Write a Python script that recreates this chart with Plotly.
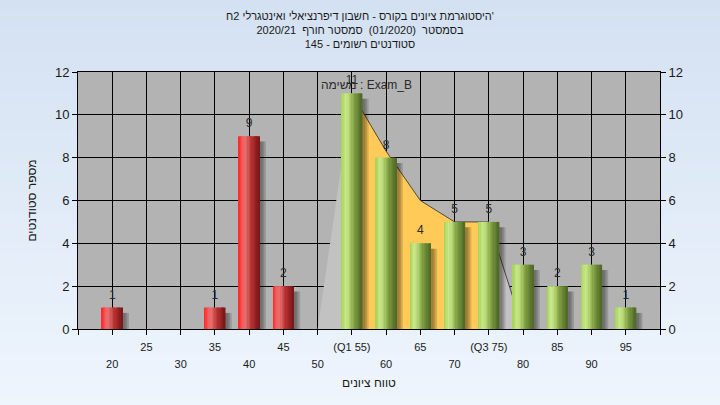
import plotly.graph_objects as go

# ---------------- data ----------------
scores = [20, 35, 40, 45, 55, 60, 65, 70, 75, 80, 85, 90, 95]
counts = [1, 1, 9, 2, 11, 8, 4, 5, 5, 3, 2, 3, 1]
pass_mark = 55

curve_x = [50, 55, 60, 65, 70, 75, 80]
curve_y = [0, 11, 8.3, 6, 5, 5, 0]
iqr_x = [55, 60, 65, 70, 75]
iqr_y = [11, 8.3, 6, 5, 5]
edge_x = [55, 60, 65, 70, 75, 80]
edge_y = [11, 8.3, 6, 5, 5, 0]

all_ticks = [15, 20, 25, 30, 35, 40, 45, 50, 55, 60, 65, 70, 75, 80, 85, 90, 95, 100]
upper_ticks = [25, 35, 45, 55, 65, 75, 85, 95]
upper_labels = ["25", "35", "45", "(Q1 55)", "65", "(Q3 75)", "85", "95"]
lower_ticks = [20, 30, 40, 50, 60, 70, 80, 90]
lower_labels = ["20", "30", "40", "50", "60", "70", "80", "90"]

title_lines = [
    "היסטוגרמת ציונים בקורס - חשבון דיפרנציאלי ואינטגרלי 2ח'",
    "בסמסטר  (01/2020)  סמסטר חורף  2020/21",
    "סטודנטים רשומים - 145",
]
legend_text = "משימה : Exam_B"
x_title = "טווח ציונים"
y_title = "מספר סטודנטים"

# ---------------- style ----------------
FONT = "Liberation Sans, Arial, sans-serif"
L, R, T, B = 78, 60, 72, 76
W, H = 720, 405
PW, PH = W - L - R, H - T - B

RED_STOPS = [(0.0, (255, 36, 36)), (0.22, (238, 98, 98)), (0.35, (230, 110, 110)),
             (0.62, (184, 50, 50)), (1.0, (120, 22, 22))]
GREEN_STOPS = [(0.0, (164, 210, 82)), (0.22, (200, 230, 138)), (0.35, (188, 220, 124)),
               (0.62, (128, 162, 66)), (1.0, (78, 102, 38))]


def interp(stops, t):
    for (t0, c0), (t1, c1) in zip(stops[:-1], stops[1:]):
        if t <= t1:
            f = (t - t0) / (t1 - t0) if t1 > t0 else 0
            return "rgb(%d,%d,%d)" % tuple(round(a + (b - a) * f) for a, b in zip(c0, c1))
    return "rgb(%d,%d,%d)" % stops[-1][1]


fig = go.Figure()

# shaded distribution area (bottom subplot layer)
fig.add_trace(go.Scatter(x=curve_x, y=curve_y, mode="lines", fill="tozeroy",
                         fillcolor="#c2c2c2", line=dict(width=0, color="#c2c2c2"),
                         hoverinfo="skip", showlegend=False))
fig.add_trace(go.Scatter(x=iqr_x, y=iqr_y, mode="lines", fill="tozeroy",
                         fillcolor="#ffca58", line=dict(width=0, color="#ffca58"),
                         hoverinfo="skip", showlegend=False))
fig.add_trace(go.Scatter(x=edge_x, y=edge_y, mode="lines",
                         line=dict(width=1, color="rgba(60,50,40,0.85)"),
                         hoverinfo="skip", showlegend=False))

BW = 3.0
# shadows (overlay subplot, drawn above the area)
for dx, a in [(0.45, 0.14), (0.7, 0.14), (0.95, 0.14)]:
    fig.add_trace(go.Bar(x=scores, y=[c - 0.25 for c in counts], width=BW, offset=-BW / 2 + dx,
                         xaxis="x2", yaxis="y2",
                         marker=dict(color="rgba(0,0,0,%s)" % a, line=dict(width=0)),
                         hoverinfo="skip", showlegend=False))

# cylinder-like bars from vertical strips
N = 16
sw = BW / N
for i in range(N):
    t = (i + 0.5) / N
    cols = [interp(RED_STOPS if s < pass_mark else GREEN_STOPS, t) for s in scores]
    fig.add_trace(go.Bar(x=scores, y=counts, width=sw * 1.25, offset=-BW / 2 + i * sw,
                         xaxis="x2", yaxis="y2",
                         marker=dict(color=cols, line=dict(width=0)),
                         hoverinfo="skip", showlegend=False))

# value labels
fig.add_trace(go.Scatter(x=scores, y=counts, mode="markers+text", text=[str(c) for c in counts],
                         textposition="top center", xaxis="x2", yaxis="y2",
                         marker=dict(size=8, opacity=0),
                         textfont=dict(family=FONT, size=12, color="#2a2a2a"),
                         hoverinfo="skip", showlegend=False))

# background gradient + plot area
shapes = []
NS = 40
top_c, bot_c = (212, 225, 242), (238, 245, 253)
for k in range(NS):
    f = k / (NS - 1)
    c = tuple(round(a + (b - a) * f) for a, b in zip(top_c, bot_c))
    y0_px = H * k / NS
    y1_px = H * (k + 1) / NS + 1
    shapes.append(dict(type="rect", xref="paper", yref="paper", layer="below",
                       x0=(0 - L) / PW, x1=(W - L) / PW,
                       y0=(H - B - y0_px) / PH, y1=(H - B - y1_px) / PH,
                       fillcolor="rgb(%d,%d,%d)" % c, line=dict(width=0)))
shapes.append(dict(type="rect", xref="paper", yref="paper", layer="below",
                   x0=0, x1=1, y0=0, y1=1, fillcolor="#b3b3b3", line=dict(width=0)))

axis_common = dict(showline=True, linecolor="black", linewidth=1,
                   ticks="outside", ticklen=5, tickcolor="black", zeroline=False)

fig.update_layout(
    width=W, height=H,
    margin=dict(l=L, r=R, t=T, b=B),
    paper_bgcolor="rgba(0,0,0,0)",
    plot_bgcolor="rgba(0,0,0,0)",
    barmode="overlay",
    showlegend=False,
    font=dict(family=FONT, color="#1a1a1a"),
    shapes=shapes,
    title=dict(text="<br>".join(title_lines), x=0.5, xanchor="center",
               y=0.951, yanchor="top", font=dict(family=FONT, size=11, color="#1a1a1a")),
    xaxis=dict(range=[15, 100], tickmode="array", tickvals=all_ticks,
               ticktext=[upper_labels[upper_ticks.index(v)] if v in upper_ticks else "" for v in all_ticks],
               showgrid=True, gridcolor="black", gridwidth=1, mirror=True,
               ticklabelstandoff=3,
               tickfont=dict(size=11, family=FONT, color="#1a1a1a"),
               title=dict(text=x_title, standoff=26, font=dict(size=12, family=FONT)),
               **axis_common),
    xaxis2=dict(range=[15, 100], overlaying="x", side="bottom", tickmode="array",
                tickvals=lower_ticks, ticktext=lower_labels, ticks="", showgrid=False,
                showline=False, zeroline=False, ticklabelstandoff=27,
                tickfont=dict(size=11, family=FONT, color="#1a1a1a")),
    yaxis=dict(range=[0, 12], dtick=2, showgrid=True, gridcolor="black", gridwidth=1,
               mirror=True, tickfont=dict(size=13, family=FONT, color="#1a1a1a"),
               title=dict(text=y_title, standoff=15, font=dict(size=12, family=FONT)),
               **axis_common),
    yaxis2=dict(range=[0, 12], dtick=2, overlaying="y", side="right", showgrid=False,
                tickfont=dict(size=13, family=FONT, color="#1a1a1a"), **axis_common),
    annotations=[dict(text=legend_text, xref="paper", yref="paper",
                      x=(366 - L) / PW, y=(H - B - 85) / PH, showarrow=False,
                      xanchor="center", yanchor="middle",
                      font=dict(family=FONT, size=12, color="#2a2a2a"))],
)

fig.write_html("out.html", config={"displayModeBar": False},
               post_script="document.body.style.margin='0';")
